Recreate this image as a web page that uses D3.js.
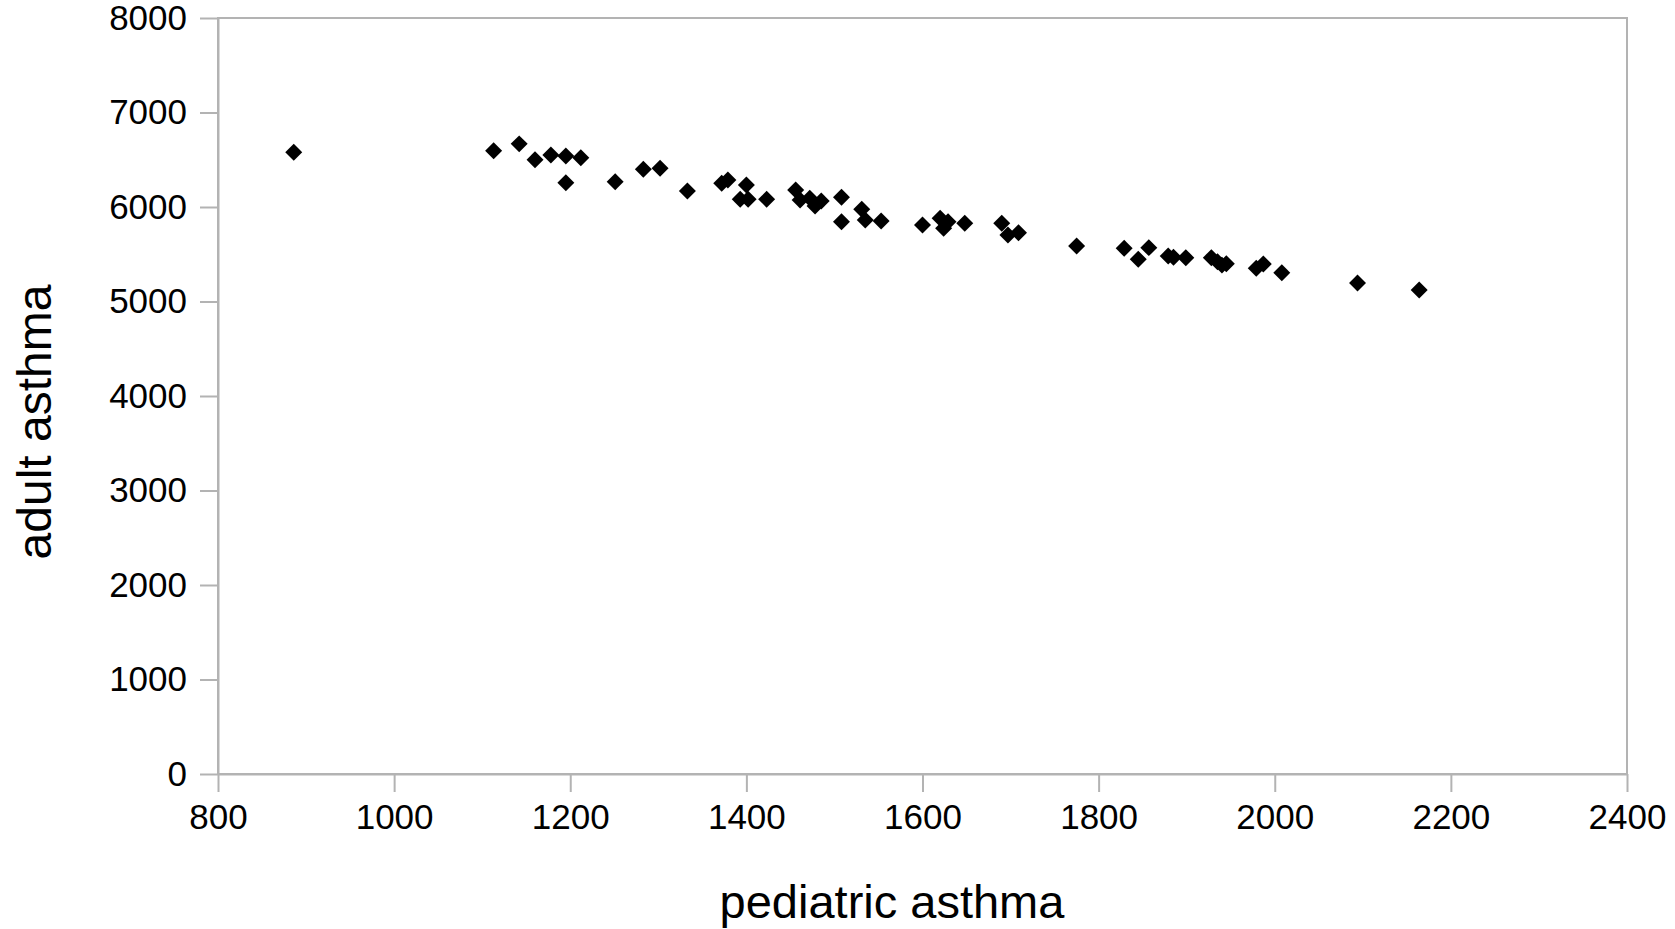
<!DOCTYPE html>
<html>
<head>
<meta charset="utf-8">
<title>pediatric vs adult asthma</title>
<script src="https://cdn.jsdelivr.net/npm/d3@7"></script>
<style>
    html, body { margin: 0; padding: 0; background: #fff; }
    text { font-family: 'Liberation Sans', Arial, sans-serif; fill: #000; }
</style>
</head>
<body>
<div id="chart"></div>
<script>
// values
var pediatric = [886, 1113, 1142, 1160, 1178, 1195, 1212, 1195, 1251, 1283, 1302, 1333, 1372,
    1379, 1400, 1393, 1402, 1423, 1456, 1461, 1472, 1478, 1485, 1508, 1508, 1531, 1535, 1553,
    1600, 1620, 1624, 1629, 1648, 1690, 1697, 1709, 1775, 1829, 1845, 1857, 1879, 1885, 1899,
    1928, 1935, 1945, 1940, 1979, 1987, 2008, 2094, 2164];
var adult = [6580, 6595, 6668, 6500, 6550, 6540, 6522, 6257, 6268, 6400, 6410, 6169, 6251,
    6286, 6233, 6082, 6082, 6082, 6180, 6074, 6092, 6011, 6063, 6103, 5844, 5976, 5862, 5852,
    5810, 5881, 5775, 5845, 5828, 5828, 5704, 5728, 5587, 5563, 5447, 5570, 5481, 5468, 5464,
    5464, 5420, 5400, 5385, 5351, 5397, 5305, 5196, 5122];
var xTicks = [800, 1000, 1200, 1400, 1600, 1800, 2000, 2200, 2400];
var yTicks = [0, 1000, 2000, 3000, 4000, 5000, 6000, 7000, 8000];

(function(d3) {
    'use strict'

    var width = 1675;
    var height = 929;
    var margin = {top: 18, right: 48, bottom: 155, left: 218};
    var w = width - margin.left - margin.right;
    var h = height - margin.top - margin.bottom;
    var axisColor = '#b3b3b3';
    var fmt = d3.format('d');

    var svg = d3.select('#chart')
        .append('svg')
        .attr('width', width)
        .attr('height', height);

    var g = svg.append('g')
        .attr('transform', 'translate(' + margin.left + ',' + margin.top + ')');

    var x = d3.scaleLinear().domain([800, 2400]).range([0, w]);
    var y = d3.scaleLinear().domain([0, 8000]).range([h, 0]);

    // plot frame
    g.append('rect')
        .attr('x', 0)
        .attr('y', 0)
        .attr('width', w)
        .attr('height', h)
        .attr('fill', 'none')
        .attr('stroke', axisColor)
        .attr('stroke-width', 2);

    var xAxis = g.append('g')
        .attr('transform', 'translate(0,' + h + ')')
        .call(d3.axisBottom(x).tickValues(xTicks).tickFormat(fmt)
            .tickSize(18).tickPadding(12).tickSizeOuter(0));

    var yAxis = g.append('g')
        .call(d3.axisLeft(y).tickValues(yTicks).tickFormat(fmt)
            .tickSize(18).tickPadding(13).tickSizeOuter(0));

    [xAxis, yAxis].forEach(function(a) {
        a.select('.domain').attr('stroke', axisColor).attr('stroke-width', 2);
        a.selectAll('.tick line').attr('stroke', axisColor).attr('stroke-width', 2);
        a.selectAll('.tick text')
            .attr('fill', '#000')
            .style('font-size', '35px')
            .style('font-family', "'Liberation Sans', Arial, sans-serif");
    });

    // points
    var diamond = d3.symbol().type(d3.symbolSquare).size(144);

    g.selectAll('path.pt')
        .data(pediatric)
        .enter()
        .append('path')
        .attr('class', 'pt')
        .attr('d', diamond)
        .attr('fill', '#000')
        .attr('transform', function(d, i) {
            return 'translate(' + x(d) + ',' + y(adult[i]) + ') rotate(45)';
        });

    // axis titles
    svg.append('text')
        .attr('x', 892)
        .attr('y', 918)
        .attr('text-anchor', 'middle')
        .style('font-size', '47px')
        .text('pediatric asthma');

    svg.append('text')
        .attr('transform', 'translate(51,422) rotate(-90)')
        .attr('text-anchor', 'middle')
        .style('font-size', '48px')
        .text('adult asthma');

})(window.d3);
</script>
</body>
</html>
